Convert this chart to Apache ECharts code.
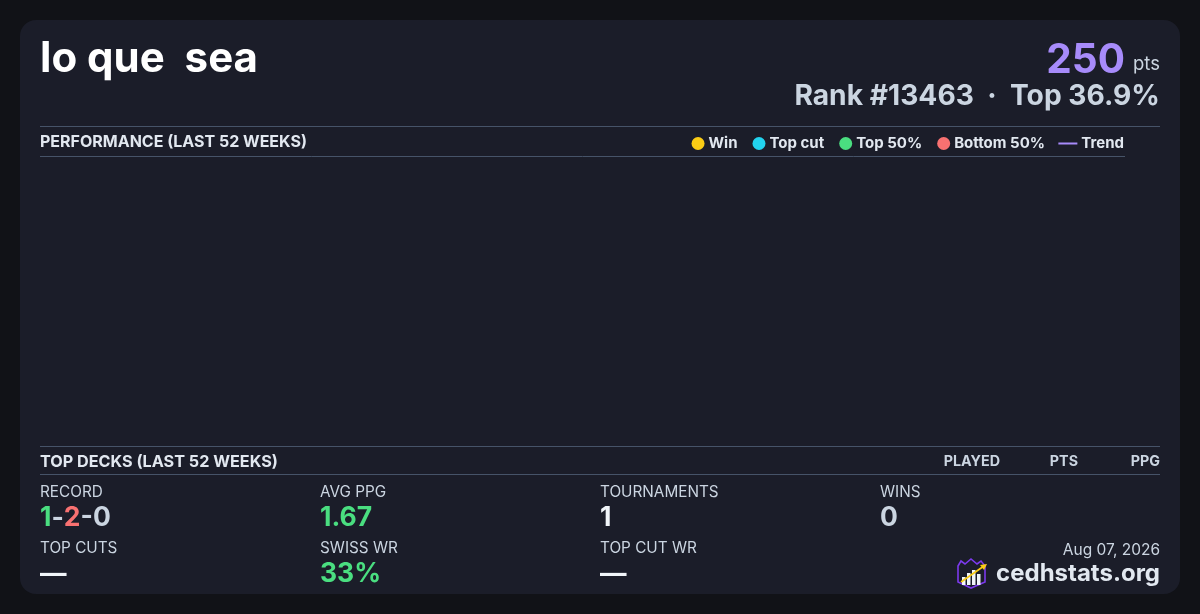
<!DOCTYPE html>
<html>
<head>
<meta charset="utf-8">
<script src="https://cdn.jsdelivr.net/npm/echarts@6/dist/echarts.min.js"></script>
<style>
html,body{margin:0;padding:0;background:#111217;}
#c{width:1200px;height:614px;}
</style>
</head>
<body>
<div id="c"></div>
<script>
// ---- data ----
var playerName = 'lo que  sea';
var points = '250';
var rankText = 'Rank #13463  \u00b7  Top 36.9%';
var legendNames = ['Win', 'Top cut', 'Top 50%', 'Bottom 50%'];
var legendColors = ['#facc15', '#22d3ee', '#4ade80', '#f87171'];
var trendName = 'Trend';
var trendColor = '#a78bfa';
var winData = [];
var topCutData = [];
var top50Data = [];
var bottom50Data = [];
var trendData = [];
var deckHeaders = ['PLAYED', 'PTS', 'PPG'];
var statLabels = ['RECORD', 'AVG PPG', 'TOURNAMENTS', 'WINS', 'TOP CUTS', 'SWISS WR', 'TOP CUT WR'];
var recordWins = '1', recordLosses = '2', recordDraws = '0';
var avgPpg = '1.67';
var tournaments = '1';
var wins = '0';
var topCuts = '\u2014';
var swissWr = '33%';
var topCutWr = '\u2014';
var dateText = 'Aug 07, 2026';
var siteText = 'cedhstats.org';

var FONT = 'Inter, "Noto Sans", sans-serif';
var chart = echarts.init(document.getElementById('c'));

function txt(x, y, text, size, color, weight, align, extra) {
  var o = {
    type: 'text', x: x, y: y, silent: true,
    style: { text: text, fontSize: size, fill: color, fontWeight: weight || 'normal',
      fontFamily: FONT, textAlign: align || 'left', textVerticalAlign: 'middle' }
  };
  if (extra) for (var k in extra) o.style[k] = extra[k];
  return o;
}
function hline(x1, x2, y) {
  return { type: 'line', silent: true, shape: { x1: x1, y1: y, x2: x2, y2: y },
    style: { stroke: '#465368', lineWidth: 1 } };
}

var VS = 26.5;
var graphics = [
  { type: 'rect', silent: true, z: -10, shape: { x: 20, y: 20, width: 1160, height: 574, r: 16 },
    style: { fill: '#1b1d29' } },
  txt(40, 59, playerName, 42, '#ffffff', 'bold'),
  txt(1125, 61, points, 40.5, '#a78bfa', 'bold', 'right'),
  txt(1160, 64, 'pts', 18.5, '#cbd5e1', 'normal', 'right'),
  txt(1160, 96.5, rankText, 28.2, '#cbd5e1', 'bold', 'right'),
  hline(40, 1160, 126.5),
  txt(40, 142, 'PERFORMANCE (LAST 52 WEEKS)', 16, '#e2e8f0', 'bold'),
  hline(40, 1125, 156.5),
  hline(40, 1160, 446.5),
  txt(40, 462, 'TOP DECKS (LAST 52 WEEKS)', 16.2, '#e2e8f0', 'bold'),
  txt(1000, 462, deckHeaders[0], 14.3, '#cbd5e1', 'bold', 'right'),
  txt(1078, 462, deckHeaders[1], 14.3, '#cbd5e1', 'bold', 'right'),
  txt(1160, 462, deckHeaders[2], 14.3, '#cbd5e1', 'bold', 'right'),
  hline(40, 1160, 474.5),
  // stats labels
  txt(40, 492, statLabels[0], 15.3, '#cbd5e1'),
  txt(320, 492, statLabels[1], 15.3, '#cbd5e1'),
  txt(600, 492, statLabels[2], 15.3, '#cbd5e1'),
  txt(880, 492, statLabels[3], 15.3, '#cbd5e1'),
  txt(40, 548, statLabels[4], 15.3, '#cbd5e1'),
  txt(320, 548, statLabels[5], 15.3, '#cbd5e1'),
  txt(600, 548, statLabels[6], 15.3, '#cbd5e1'),
  // values
  { type: 'text', x: 40, y: 518, silent: true, style: {
      text: '{w|' + recordWins + '}{d|-}{l|' + recordLosses + '}{d|-' + recordDraws + '}',
      fontFamily: FONT, textVerticalAlign: 'middle',
      rich: {
        w: { fontSize: VS, fontWeight: 'bold', fill: '#4ade80', fontFamily: FONT },
        l: { fontSize: VS, fontWeight: 'bold', fill: '#f87171', fontFamily: FONT },
        d: { fontSize: VS, fontWeight: 'bold', fill: '#cbd5e1', fontFamily: FONT }
      } } },
  txt(320, 518, avgPpg, VS, '#4ade80', 'bold'),
  txt(600, 518, tournaments, VS, '#f1f5f9', 'bold'),
  txt(880, 518, wins, VS, '#cbd5e1', 'bold'),
  txt(40, 574, topCuts, VS, '#f1f5f9', 'bold'),
  txt(320, 574, swissWr, VS, '#4ade80', 'bold'),
  txt(600, 574, topCutWr, VS, '#f1f5f9', 'bold'),
  txt(1160, 550, dateText, 15.5, '#cbd5e1', 'normal', 'right'),
  txt(1160, 574, siteText, 24, '#e2e8f0', 'bold', 'right'),
  // logo
  { type: 'polygon', silent: true, shape: { points: [[958,566],[961,561],[965,564],[971,559],[977,564],[981,561],[985,566],[985,582],[971,588],[958,582]] },
    style: { fill: '#1b1d29', stroke: '#7c3aed', lineWidth: 1.6 } },
  { type: 'rect', silent: true, shape: { x: 962, y: 577, width: 3.5, height: 8 }, style: { fill: '#f1f5f9' } },
  { type: 'rect', silent: true, shape: { x: 967, y: 573, width: 3.5, height: 12 }, style: { fill: '#f1f5f9' } },
  { type: 'rect', silent: true, shape: { x: 972, y: 570, width: 3.5, height: 15 }, style: { fill: '#f1f5f9' } },
  { type: 'rect', silent: true, shape: { x: 977, y: 574, width: 3.5, height: 11 }, style: { fill: '#f1f5f9' } },
  { type: 'line', silent: true, shape: { x1: 961, y1: 582, x2: 984, y2: 566 }, style: { stroke: '#facc15', lineWidth: 1.8 } },
  { type: 'polygon', silent: true, shape: { points: [[987,564],[980,565],[984,570]] }, style: { fill: '#facc15' } }
];

var legendText = { color: '#e2e8f0', fontSize: 15, fontWeight: 'bold', fontFamily: FONT, padding: [0, 0, 0, -1] };
var option = {
  backgroundColor: '#111217',
  animation: false,
  textStyle: { fontFamily: FONT },
  grid: { left: 40, right: 75, top: 165, bottom: 175, show: false },
  xAxis: { type: 'value', show: false },
  yAxis: { type: 'value', show: false },
  legend: [
    {
      data: legendNames.map(function (n) { return { name: n, icon: 'circle' }; }),
      right: 150, top: 131, itemWidth: 13, itemHeight: 13, itemGap: 15,
      textStyle: legendText
    },
    {
      data: [{ name: trendName, icon: 'rect' }],
      right: 71, top: 131, itemWidth: 19, itemHeight: 2,
      textStyle: legendText
    }
  ],
  series: [
    { name: legendNames[0], type: 'scatter', data: winData, itemStyle: { color: legendColors[0], opacity: 1 } },
    { name: legendNames[1], type: 'scatter', data: topCutData, itemStyle: { color: legendColors[1], opacity: 1 } },
    { name: legendNames[2], type: 'scatter', data: top50Data, itemStyle: { color: legendColors[2], opacity: 1 } },
    { name: legendNames[3], type: 'scatter', data: bottom50Data, itemStyle: { color: legendColors[3], opacity: 1 } },
    { name: trendName, type: 'line', data: trendData, showSymbol: false, itemStyle: { color: trendColor }, lineStyle: { color: trendColor, width: 2 } }
  ],
  graphic: graphics
};
chart.setOption(option);
</script>
</body>
</html>
